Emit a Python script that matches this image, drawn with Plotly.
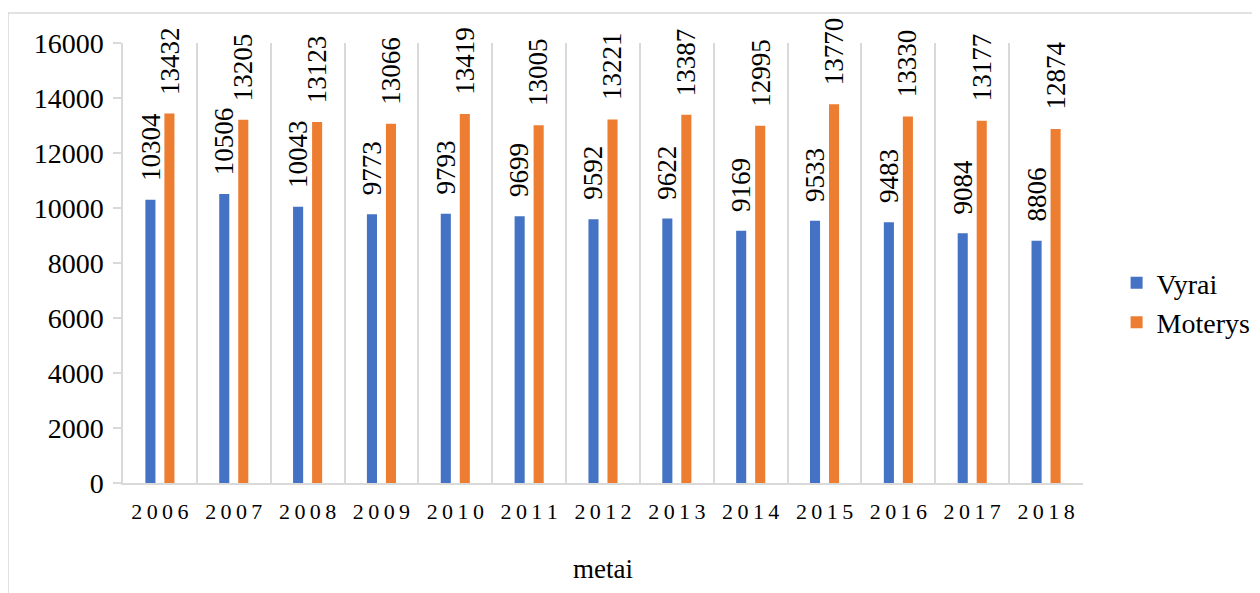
import plotly.graph_objects as go

years = ["2006", "2007", "2008", "2009", "2010", "2011", "2012",
         "2013", "2014", "2015", "2016", "2017", "2018"]
vyrai = [10304, 10506, 10043, 9773, 9793, 9699, 9592, 9622, 9169, 9533, 9483, 9084, 8806]
moterys = [13432, 13205, 13123, 13066, 13419, 13005, 13221, 13387, 12995, 13770, 13330, 13177, 12874]
y_ticks = [0, 2000, 4000, 6000, 8000, 10000, 12000, 14000, 16000]

FONT = "Liberation Serif, Times New Roman, serif"
BLUE = "#4472C4"
ORANGE = "#ED7D31"
GRID = "#D9D9D9"

fig = go.Figure()
fig.add_trace(go.Bar(name="Vyrai", x=years, y=vyrai, marker_color=BLUE, marker_line_width=0))
fig.add_trace(go.Bar(name="Moterys", x=years, y=moterys, marker_color=ORANGE, marker_line_width=0))

for vals, shift in ((vyrai, -9.5), (moterys, 9.5)):
    for i, v in enumerate(vals):
        fig.add_annotation(x=i, y=v, xref="x", yref="y", text=str(v), textangle=-90,
                           showarrow=False, xanchor="center", yanchor="bottom",
                           xshift=shift, yshift=17,
                           font=dict(family=FONT, size=27, color="black"))

# chart border
fig.add_shape(type="rect", xref="paper", yref="paper",
              x0=-115 / 960, x1=1300 / 960,
              y0=-200 / 440, y1=1 + 30 / 440,
              line=dict(color=GRID, width=1.5), layer="below")

fig.update_layout(
    width=1260, height=593,
    margin=dict(l=115, r=185, t=35, b=118),
    paper_bgcolor="white", plot_bgcolor="white",
    barmode="group", bargap=0.485, bargroupgap=0.47,
    font=dict(family=FONT, size=27, color="black"),
    showlegend=True,
    legend=dict(x=1.035, y=0.41, xanchor="left", yanchor="middle",
                font=dict(family=FONT, size=28, color="black"),
                bgcolor="rgba(0,0,0,0)", tracegroupgap=0),
)
fig.update_xaxes(
    type="category", tickson="boundaries",
    tickvals=years, ticktext=["\u2009".join(y) for y in years],
    tickfont=dict(family=FONT, size=22, color="black"),
    showgrid=True, gridcolor=GRID, gridwidth=1.5,
    showline=True, linecolor=GRID, linewidth=2,
    ticks="", ticklabelstandoff=8,
    title=dict(text="metai", font=dict(family=FONT, size=27, color="black"), standoff=36),
    range=[-0.5, 12.5],
)
fig.update_yaxes(
    range=[0, 16000], tickvals=y_ticks, tickformat="d",
    tickfont=dict(family=FONT, size=28, color="black"),
    showgrid=False, zeroline=False,
    showline=True, linecolor=GRID, linewidth=1.5,
    ticks="outside", ticklen=8, tickcolor=GRID, tickwidth=1.5,
    ticklabelstandoff=4,
)

fig.write_html("out.html")
